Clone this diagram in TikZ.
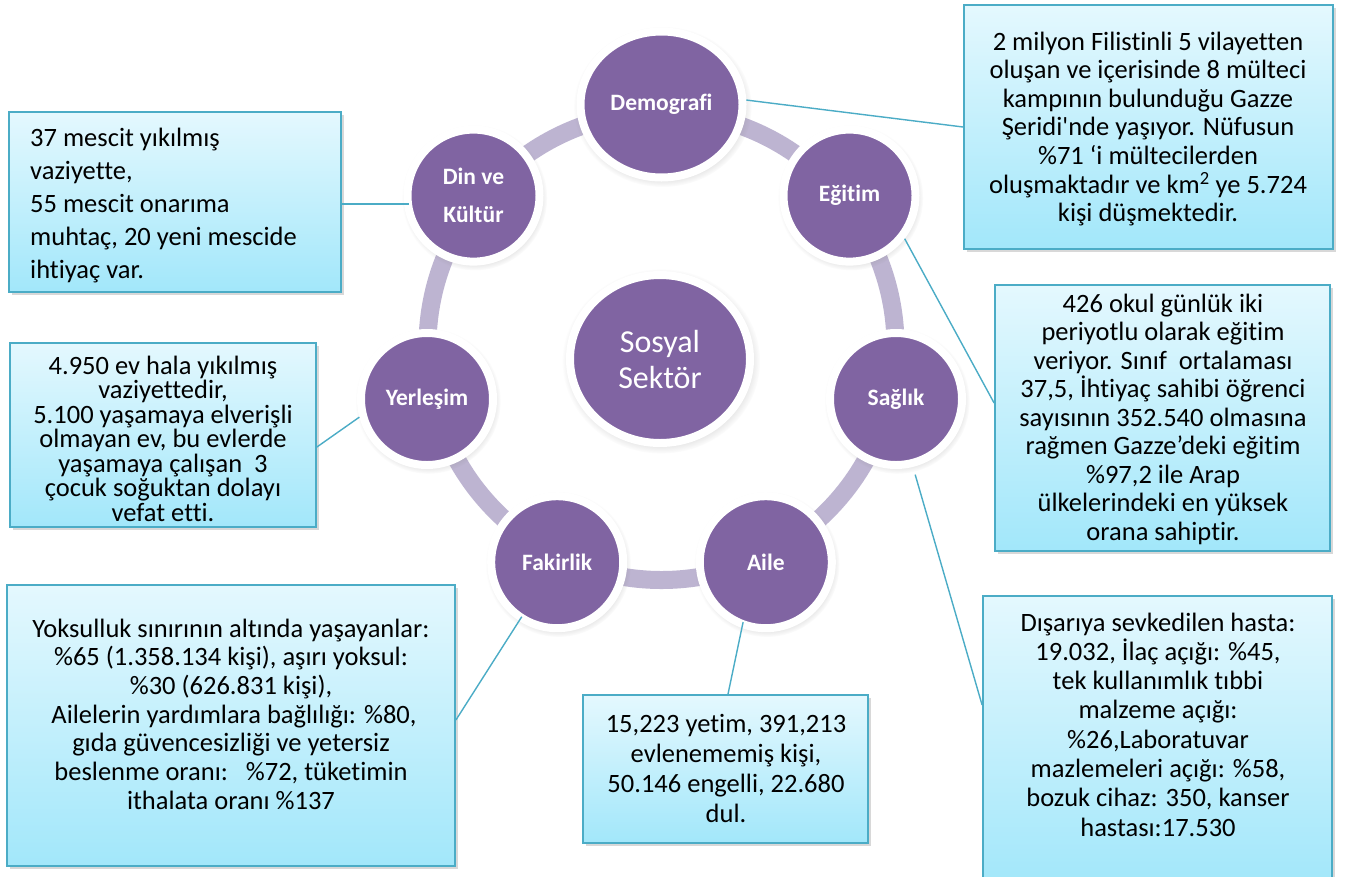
\documentclass[tikz,border=0pt]{standalone}
\usepackage{fontspec}
\setmainfont{Carlito}[Ligatures={NoCommon,NoContextual}]
\usetikzlibrary{shapes.geometric,shadows,calc}
\definecolor{pur}{HTML}{8064A2}
\definecolor{ringc}{HTML}{BDB4D1}
\definecolor{acc}{HTML}{4BACC6}
\definecolor{boxtop}{HTML}{E4F8FE}
\definecolor{boxbot}{HTML}{A2E7FA}
\begin{document}
\begin{tikzpicture}[x=1pt,y=-1pt,
  bub/.style={circle,fill=pur,draw=white,line width=8pt,minimum size=132pt,inner sep=0pt,text=white,
     font=\fontsize{23.5}{38}\selectfont\bfseries,align=center,
     circular drop shadow={shadow scale=1.1,shadow xshift=1pt,shadow yshift=-2pt,opacity=0.3}},
  infobox/.style={rectangle,draw=acc,line width=1.8pt,top color=boxtop,bottom color=boxbot,inner sep=0pt,
     drop shadow={shadow xshift=2.5pt,shadow yshift=-3pt,opacity=0.3}},
  infotext/.style={inner sep=0pt,align=center,text=black,
     font={\fontsize{26.5}{#1}\selectfont\lineskiplimit=-50pt\relax}},
  con/.style={draw=acc,line width=1.4pt}]
\useasboundingbox (0,0) rectangle (1346,876);
\fill[white] (0,0) rectangle (1346,876);

% ring
\draw[ringc, line width=18pt] (661.5,346) circle[radius=234];

% circles
\node[bub, ellipse, minimum width=162pt, minimum height=146pt] (dem) at (661.5,104.5) {Demografi};
\node[bub] (eg) at (849.5,195.6) {Eğitim};
\node[bub] (sag) at (896,399) {Sağlık};
\node[bub] (aile) at (765.8,562.2) {Aile};
\node[bub] (fak) at (557.2,562.2) {Fakirlik};
\node[bub] (yer) at (427,399) {Yerleşim};
\node[bub] (din) at (473.5,195.6) {Din ve\\Kültür};
\node[bub, ellipse, minimum width=180pt, minimum height=168pt, font=\fontsize{32}{36}\selectfont] (soc) at (660,359) {Sosyal\\Sektör};

% boxes
\node[infobox, minimum width=369pt, minimum height=244pt] (b1) at (1148.5,127) {};
\node[infobox, minimum width=332pt, minimum height=180pt] (b2) at (175,202) {};
\node[infobox, minimum width=306pt, minimum height=184pt] (b3) at (163,435) {};
\node[infobox, minimum width=448pt, minimum height=281pt] (b4) at (231,725.5) {};
\node[infobox, minimum width=285pt, minimum height=148pt] (b5) at (725.5,769) {};
\node[infobox, minimum width=349pt, minimum height=290pt] (b6) at (1157.5,741) {};
\node[infobox, minimum width=335pt, minimum height=266pt] (b7) at (1162.5,418) {};

% texts
\node[infotext=28.6] (t1) at (1148,129) {2 milyon Filistinli 5 vilayetten\\
oluşan ve içerisinde 8 mülteci\\
kampının bulunduğu Gazze\\
Şeridi\textquotesingle nde yaşıyor. Nüfusun\\
\%71 ‘i mültecilerden\\
oluşmaktadır ve km\textsuperscript{2} ye 5.724\\
kişi düşmektedir.};
\node[infotext=33, align=left, anchor=west] (t2) at (30,206) {37 mescit yıkılmış\\
vaziyette,\\
55 mescit onarıma\\
muhtaç, 20 yeni mescide\\
ihtiyaç var.};
\node[infotext=24.5] (t3) at (163,438.5) {4.950 ev hala yıkılmış\\
vaziyettedir,\\
5.100 yaşamaya elverişli\\
olmayan ev, bu evlerde\\
yaşamaya çalışan\ \ 3\\
çocuk soğuktan dolayı\\
vefat etti.};
\node[infotext=28.7] (t4) at (231,714) {Yoksulluk sınırının altında yaşayanlar:\\
\%65 (1.358.134 kişi), aşırı yoksul:\\
\%30 (626.831 kişi),\\
\hspace*{6pt}Ailelerin yardımlara bağlılığı: \%80,\\
gıda güvencesizliği ve yetersiz\\
beslenme oranı:\ \ \ \%72, tüketimin\\
ithalata oranı \%137};
\node[infotext=30] (t5) at (726,768) {15,223 yetim, 391,213\\
evlenememiş kişi,\\
50.146 engelli, 22.680\\
dul.};
\node[infotext=29.3] (t6) at (1158,724.5) {Dışarıya sevkedilen hasta:\\
19.032, İlaç açığı: \%45,\\
tek kullanımlık tıbbi\\
malzeme açığı:\\
\%26,Laboratuvar\\
mazlemeleri açığı: \%58,\\
bozuk cihaz: 350, kanser\\
hastası:17.530};
\node[infotext=28.5] (t7) at (1163,419) {426 okul günlük iki\\
periyotlu olarak eğitim\\
veriyor. Sınıf\ \ ortalaması\\
37,5, İhtiyaç sahibi öğrenci\\
sayısının 352.540 olmasına\\
rağmen Gazze’deki eğitim\\
\%97,2 ile Arap\\
ülkelerindeki en yüksek\\
orana sahiptir.};

% connectors
\draw[con] (dem.3) -- (b1.west);
\draw[con] (eg.-38) -- ($(b7.west)+(0,-15)$);
\draw[con, shorten <=8pt] (sag.-76) -- ($(b6.west)+(0,-36)$);
\draw[con, shorten <=-6pt] (aile.-110) -- ($(b5.north)+(2.5,0)$);
\draw[con, shorten <=-5pt] (fak.-123) -- ($(b4.east)+(0,-5.5)$);
\draw[con] (yer.195) -- ($(b3.east)+(0,12)$);
\draw[con, shorten <=-5pt] (din.187) -- (din.187 -| b2.east);
\end{tikzpicture}
\end{document}
